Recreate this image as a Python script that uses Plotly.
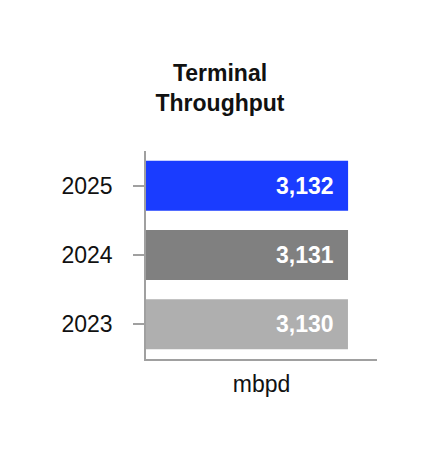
import plotly.graph_objects as go

years = ["2023", "2024", "2025"]
values = [3130, 3131, 3132]
colors = ["#afafaf", "#808080", "#1a3cff"]
value_labels = ["3,130", "3,131", "3,132"]

FONT = "Liberation Sans, Arial, sans-serif"

fig = go.Figure()
fig.add_trace(go.Bar(
    x=values, y=years, orientation="h",
    marker=dict(color=colors, line=dict(width=0)),
    hoverinfo="skip",
))

annotations = []
for i, (v, t) in enumerate(zip(values, value_labels)):
    annotations.append(dict(x=v, y=i, xref="x", yref="y", text=f"<b>{t}</b>",
                            showarrow=False, xanchor="right", xshift=-12,
                            font=dict(family=FONT, size=23, color="white")))

fig.update_layout(
    width=440, height=460,
    margin=dict(l=138, r=71, t=143, b=109),
    paper_bgcolor="white", plot_bgcolor="white",
    bargap=0.28,
    showlegend=False,
    annotations=annotations,
    font=dict(family=FONT, size=23, color="#111"),
    title=dict(text="<b>Terminal<br>Throughput</b>", x=212/440, xanchor="center",
               y=1 - 73/460, yanchor="middle",
               font=dict(family=FONT, size=23, color="#111")),
    xaxis=dict(range=[0, 3580], showticklabels=False, ticks="", showgrid=False,
               zeroline=False, showline=True, linecolor="#a0a0a0", linewidth=1.5,
               title=dict(text="mbpd", standoff=16, font=dict(family=FONT, size=23))),
    yaxis=dict(range=[-0.5, 2.5], type="category", ticks="outside", ticklen=11,
               tickcolor="#a0a0a0", tickwidth=1.5, showgrid=False, zeroline=False,
               showline=True, linecolor="#a0a0a0", linewidth=1.5,
               ticklabelstandoff=16, tickfont=dict(family=FONT, size=23)),
)
fig.write_html("out.html")
